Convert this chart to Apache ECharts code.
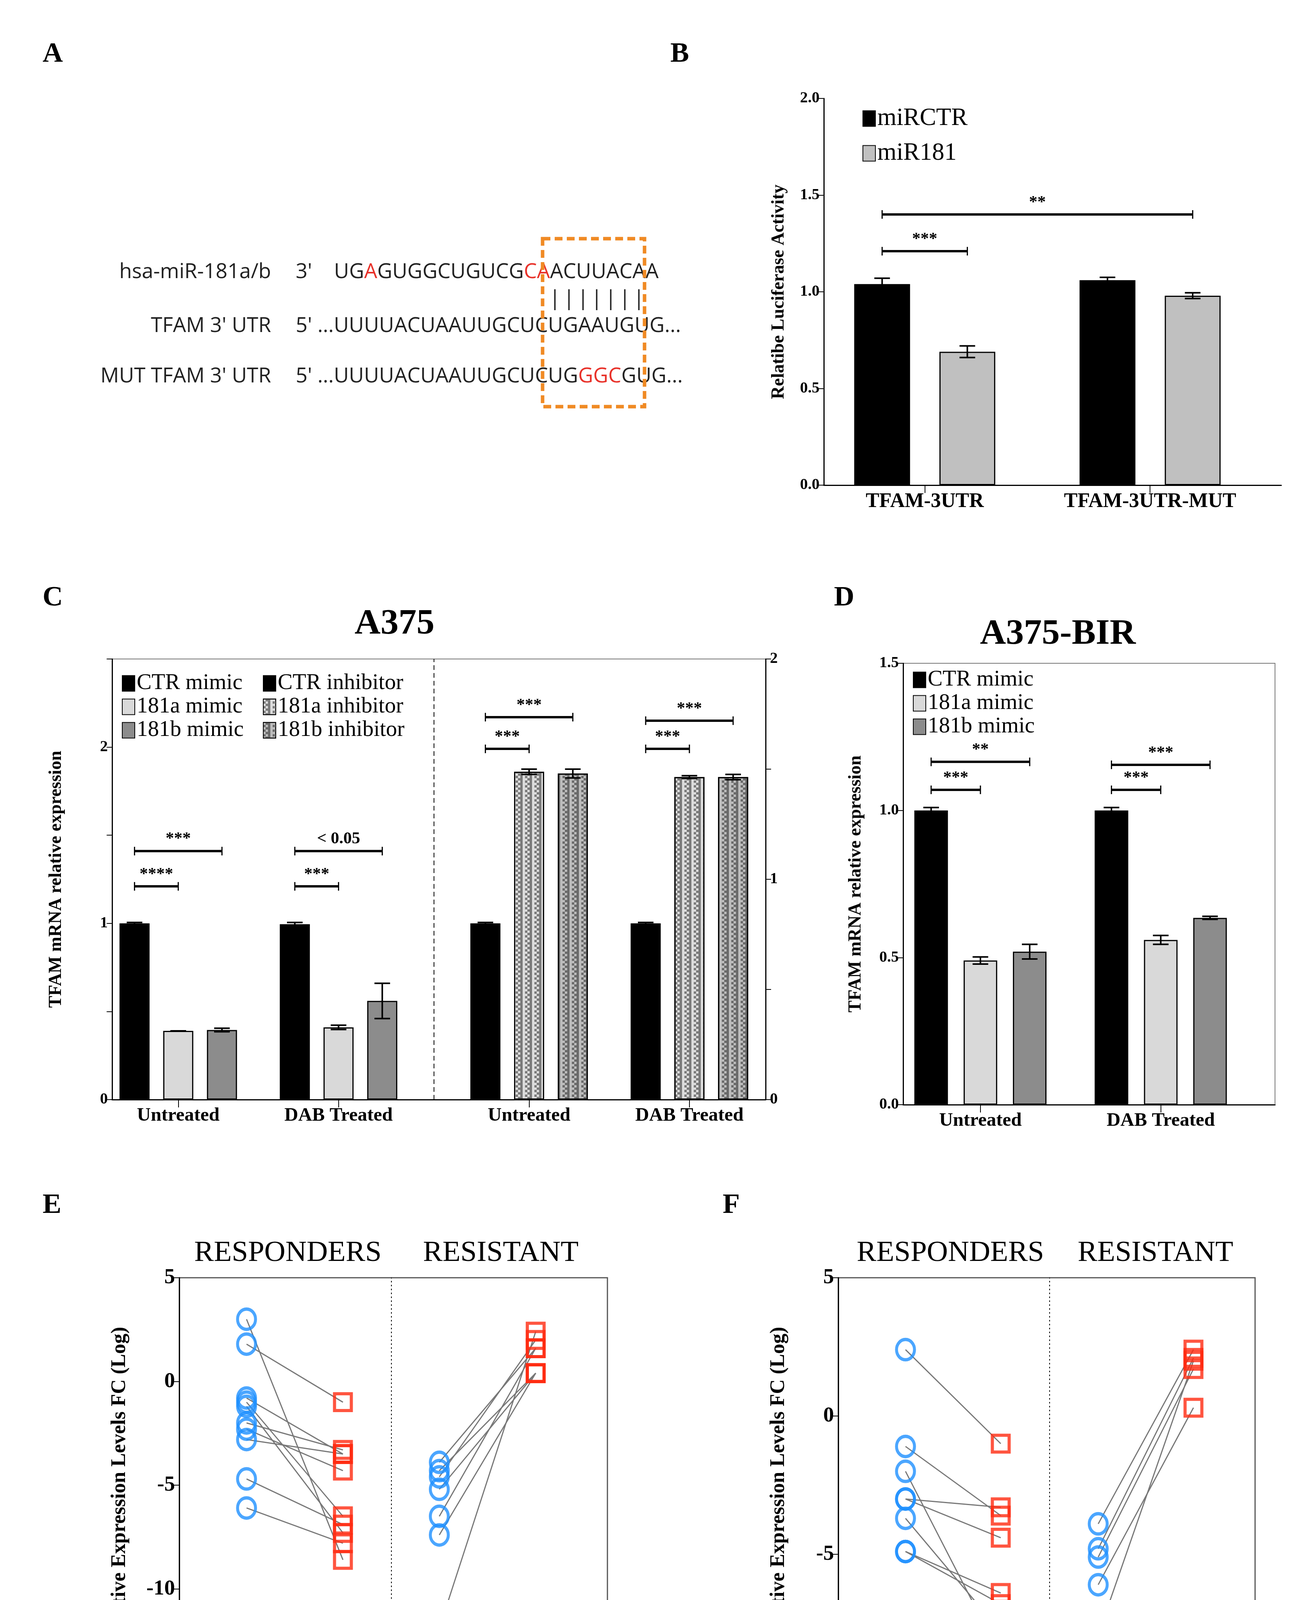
<!DOCTYPE html>
<html><head><meta charset="utf-8">
<script src="https://cdn.jsdelivr.net/npm/echarts@6/dist/echarts.min.js"></script>
<style>html,body{margin:0;padding:0;background:#fff}#c{width:3328px;height:4528px}</style>
</head><body><div id="c"></div>
<script>
// ---------- data ----------
const B_groups = ['TFAM-3UTR', 'TFAM-3UTR-MUT'];
const B_miRCTR = [1.04, 1.06];
const B_miRCTR_err = [0.03, 0.015];
const B_miR181 = [0.69, 0.98];
const B_miR181_err = [0.03, 0.015];
const B_sig = [[0,0,0,1,1.21,'***'],[0,0,1,1,1.40,'**']]; // g1,s1,g2,s2,y,text

const C_groups = ['Untreated', 'DAB Treated', 'Untreated', 'DAB Treated'];
const C_ctrMimic = [1.0, 0.995];
const C_ctrMimic_err = [0.005, 0.01];
const C_181aMimic = [0.39, 0.41];
const C_181aMimic_err = [0.0, 0.012];
const C_181bMimic = [0.395, 0.56];
const C_181bMimic_err = [0.01, 0.1];
const C_ctrInh = [1.0, 1.0];
const C_ctrInh_err = [0.005, 0.005];
const C_181aInh = [1.86, 1.83];
const C_181aInh_err = [0.015, 0.008];
const C_181bInh = [1.85, 1.83];
const C_181bInh_err = [0.025, 0.015];
const C_sig = [[0,0,0,1,1.21,'****'],[0,0,0,2,1.41,'***'],[1,0,1,1,1.21,'***'],[1,0,1,2,1.41,'< 0.05'],
               [2,0,2,1,1.99,'***'],[2,0,2,2,2.17,'***'],[3,0,3,1,1.99,'***'],[3,0,3,2,2.15,'***']];

const D_groups = ['Untreated', 'DAB Treated'];
const D_ctrMimic = [1.0, 1.0];
const D_ctrMimic_err = [0.01, 0.01];
const D_181aMimic = [0.49, 0.56];
const D_181aMimic_err = [0.012, 0.015];
const D_181bMimic = [0.52, 0.635];
const D_181bMimic_err = [0.025, 0.005];
const D_sig = [[0,0,0,1,1.07,'***'],[0,0,0,2,1.165,'**'],[1,0,1,1,1.07,'***'],[1,0,1,2,1.155,'***']];

const E_cats = ['181a', 'TFAM', '181a', 'TFAM'];
const E_resp_181a = [3.0, 1.8, -0.8, -1.0, -1.2, -2.0, -2.3, -2.8, -4.7, -6.1];
const E_resp_TFAM = [-8.6, -1.0, -3.5, -6.5, -7.3, -3.3, -4.3, -3.5, -6.9, -7.8];
const E_res_181a = [-3.9, -4.3, -4.6, -5.2, -6.5, -7.4, -11.9];
const E_res_TFAM = [1.6, 0.4, 2.0, 0.4, 1.6, 0.4, 2.4];

const F_cats = ['181b', 'TFAM', '181b', 'TFAM'];
const F_resp_181b = [2.4, -1.1, -2.0, -3.0, -3.0, -3.7, -4.9, -4.9];
const F_resp_TFAM = [-1.0, -3.6, -8.7, -4.4, -3.3, -7.8, -6.4, -6.8];
const F_res_181b = [-3.9, -4.8, -5.1, -6.1, -7.9];
const F_res_TFAM = [2.4, 2.1, 1.7, 0.3, 2.0];

// ---------- layout ----------
const S = 3328 / 1160;
const p = v => Math.round(v * S);
const SERIF = 'Liberation Serif';
const SANS = 'Open Sans';

const Bpos = {gc: [90, 291], off: 76, bw: 50};
const Cpos = {gc: [59, 202, 372, 515], off: 39, bw: 27};
const Dpos = {gc: [69, 230], off: 44, bw: 30};
const Epos = [60, 146, 232, 318];
const Fpos = [60, 145, 232, 317];

const bx = (pos, g, s, n) => pos.gc[g] + (s - (n - 1) / 2) * pos.off;

const grids = [
  {left: p(735), top: p(88), width: p(408), height: p(345)},
  {left: p(100), top: p(588), width: p(583), height: p(393), show: true, borderColor: '#777', borderWidth: 2},
  {left: p(806), top: p(592), width: p(332), height: p(394), show: true, borderColor: '#777', borderWidth: 2},
  {left: p(160), top: p(1140), width: p(382), height: p(370), show: true, borderColor: '#555', borderWidth: 3},
  {left: p(748), top: p(1140), width: p(372), height: p(370), show: true, borderColor: '#555', borderWidth: 3}
];

const axLine = () => ({show: true, onZero: false, lineStyle: {color: '#000', width: 3}});
function xAxisFor(gi, max, centers, labels, fs) {
  const map = {}; centers.forEach((c, i) => map[c] = labels[i]);
  return {gridIndex: gi, type: 'value', min: 0, max: max, splitLine: {show: false},
    axisLine: axLine(),
    axisTick: {customValues: centers, length: p(7), lineStyle: {color: '#000', width: 2}},
    axisLabel: {customValues: centers, formatter: v => map[v] || '', fontFamily: SERIF, fontWeight: 'bold',
      fontSize: fs, color: '#000', margin: p(6)}};
}
function yAxisFor(gi, min, max, interval, fmt, fs, name, nameGap, extra) {
  return Object.assign({gridIndex: gi, type: 'value', min: min, max: max, interval: interval,
    splitLine: {show: false}, axisLine: axLine(),
    axisTick: {show: true, length: p(5), lineStyle: {color: '#000', width: 2}},
    axisLabel: {formatter: fmt, fontFamily: SERIF, fontWeight: 'bold', fontSize: fs, color: '#000', margin: p(4)},
    name: name, nameLocation: 'middle', nameGap: nameGap,
    nameTextStyle: {fontFamily: SERIF, fontWeight: 'bold', fontSize: p(16), color: '#000'}}, extra || {});
}

const xAxes = [
  xAxisFor(0, 408, Bpos.gc, B_groups, p(18)),
  xAxisFor(1, 583, Cpos.gc, C_groups, p(17)),
  xAxisFor(2, 332, Dpos.gc, D_groups, p(17)),
  xAxisFor(3, 382, Epos, E_cats, p(25)),
  xAxisFor(4, 372, Fpos, F_cats, p(25))
];
const yAxes = [
  yAxisFor(0, 0, 2, 0.5, v => v.toFixed(1), p(14), 'Relatibe Luciferase Activity', p(32)),
  yAxisFor(1, 0, 2.5, 0.5, v => Number.isInteger(v) ? v : '', p(14), 'TFAM mRNA relative expression', p(42)),
  yAxisFor(1, 0, 2, 0.5, v => Number.isInteger(v) ? v : '', p(14), '', 0, {position: 'right'}),
  yAxisFor(2, 0, 1.5, 0.5, v => v.toFixed(1), p(14), 'TFAM mRNA relative expression', p(34)),
  yAxisFor(3, -15, 5, 5, v => v, p(19), 'Relative Expression Levels FC (Log)', p(44)),
  yAxisFor(4, -10, 5, 5, v => v, p(19), 'Relative Expression Levels FC (Log)', p(44))
];
yAxes[4].nameTextStyle.fontSize = p(18);
yAxes[5].nameTextStyle.fontSize = p(18);

const series = [];
function barSeries(name, xi, yi, pos, vals, groupIdx, s, n, style) {
  series.push({name: name, type: 'bar', xAxisIndex: xi, yAxisIndex: yi, barWidth: p(pos.bw), barGap: '-100%',
    itemStyle: Object.assign({borderColor: '#000', borderWidth: 3}, style),
    data: vals.map((v, i) => [bx(pos, groupIdx[i], s, n), v]), z: 2});
}
function errSeries(xi, yi, pos, vals, errs, groupIdx, s, n) {
  series.push({type: 'custom', xAxisIndex: xi, yAxisIndex: yi, z: 5, silent: true,
    data: vals.map((v, i) => [bx(pos, groupIdx[i], s, n), v, errs[i]]),
    renderItem: (params, api) => {
      const x = api.value(0), y = api.value(1), e = api.value(2);
      const t = api.coord([x, y + e]), b = api.coord([x, y - e]);
      const c = p(7), st = {stroke: '#000', lineWidth: 4};
      return {type: 'group', children: [
        {type: 'line', shape: {x1: t[0], y1: t[1], x2: b[0], y2: b[1]}, style: st},
        {type: 'line', shape: {x1: t[0] - c, y1: t[1], x2: t[0] + c, y2: t[1]}, style: st},
        {type: 'line', shape: {x1: b[0] - c, y1: b[1], x2: b[0] + c, y2: b[1]}, style: st}]};
    }});
}
function sigSeries(xi, yi, pos, sig, n) {
  series.push({type: 'custom', xAxisIndex: xi, yAxisIndex: yi, z: 5, silent: true,
    data: sig.map(s => [bx(pos, s[0], s[1], n), bx(pos, s[2], s[3], n), s[4]]),
    renderItem: (params, api) => {
      const a = api.coord([api.value(0), api.value(2)]), b = api.coord([api.value(1), api.value(2)]);
      const h = p(4), st = {stroke: '#000', lineWidth: 6};
      return {type: 'group', children: [
        {type: 'line', shape: {x1: a[0], y1: a[1], x2: b[0], y2: b[1]}, style: st},
        {type: 'line', shape: {x1: a[0], y1: a[1] - h, x2: a[0], y2: a[1] + h}, style: {stroke: '#000', lineWidth: 3}},
        {type: 'line', shape: {x1: b[0], y1: b[1] - h, x2: b[0], y2: b[1] + h}, style: {stroke: '#000', lineWidth: 3}},
        {type: 'text', style: {x: (a[0] + b[0]) / 2, y: a[1] - p(3), text: sig[params.dataIndex][5],
          textAlign: 'center', textVerticalAlign: 'bottom', fontFamily: SERIF, fontWeight: 'bold', fontSize: p(15), fill: '#000'}}]};
    }});
}

// B
barSeries('miRCTR', 0, 0, Bpos, B_miRCTR, [0, 1], 0, 2, {color: '#000'});
barSeries('miR181', 0, 0, Bpos, B_miR181, [0, 1], 1, 2, {color: '#c0c0c0'});
errSeries(0, 0, Bpos, B_miRCTR, B_miRCTR_err, [0, 1], 0, 2);
errSeries(0, 0, Bpos, B_miR181, B_miR181_err, [0, 1], 1, 2);
sigSeries(0, 0, Bpos, B_sig, 2);

// C
const checker = c => ({symbol: 'rect', symbolSize: 1, color: c, dashArrayX: [[6, 6], [0, 6, 6]], dashArrayY: [6, 0], rotation: 0});
barSeries('CTR mimic', 1, 1, Cpos, C_ctrMimic, [0, 1], 0, 3, {color: '#000'});
barSeries('181a mimic', 1, 1, Cpos, C_181aMimic, [0, 1], 1, 3, {color: '#d9d9d9'});
barSeries('181b mimic', 1, 1, Cpos, C_181bMimic, [0, 1], 2, 3, {color: '#8c8c8c'});
barSeries('CTR inhibitor', 1, 1, Cpos, C_ctrInh, [2, 3], 0, 3, {color: '#000'});
barSeries('181a inhibitor', 1, 1, Cpos, C_181aInh, [2, 3], 1, 3, {color: '#dcdcdc', decal: checker('#7a7a7a')});
barSeries('181b inhibitor', 1, 1, Cpos, C_181bInh, [2, 3], 2, 3, {color: '#bdbdbd', decal: checker('#6a6a6a')});
series[series.length - 1].markLine = {silent: true, symbol: 'none', label: {show: false},
  lineStyle: {color: '#000', type: [12, 8], width: 2}, data: [{xAxis: 287}]};
errSeries(1, 1, Cpos, C_ctrMimic, C_ctrMimic_err, [0, 1], 0, 3);
errSeries(1, 1, Cpos, C_181aMimic, C_181aMimic_err, [0, 1], 1, 3);
errSeries(1, 1, Cpos, C_181bMimic, C_181bMimic_err, [0, 1], 2, 3);
errSeries(1, 1, Cpos, C_ctrInh, C_ctrInh_err, [2, 3], 0, 3);
errSeries(1, 1, Cpos, C_181aInh, C_181aInh_err, [2, 3], 1, 3);
errSeries(1, 1, Cpos, C_181bInh, C_181bInh_err, [2, 3], 2, 3);
sigSeries(1, 1, Cpos, C_sig, 3);

// D
barSeries('CTR mimic ', 2, 3, Dpos, D_ctrMimic, [0, 1], 0, 3, {color: '#000'});
barSeries('181a mimic ', 2, 3, Dpos, D_181aMimic, [0, 1], 1, 3, {color: '#d9d9d9'});
barSeries('181b mimic ', 2, 3, Dpos, D_181bMimic, [0, 1], 2, 3, {color: '#8c8c8c'});
errSeries(2, 3, Dpos, D_ctrMimic, D_ctrMimic_err, [0, 1], 0, 3);
errSeries(2, 3, Dpos, D_181aMimic, D_181aMimic_err, [0, 1], 1, 3);
errSeries(2, 3, Dpos, D_181bMimic, D_181bMimic_err, [0, 1], 2, 3);
sigSeries(2, 3, Dpos, D_sig, 3);

// E/F
function pairs(xi, yi, xs, a, b, a2, b2) {
  const segs = [];
  a.forEach((v, i) => segs.push([xs[0], v, xs[1], b[i]]));
  a2.forEach((v, i) => segs.push([xs[2], v, xs[3], b2[i]]));
  series.push({type: 'custom', xAxisIndex: xi, yAxisIndex: yi, z: 1, silent: true, data: segs,
    renderItem: (params, api) => {
      const s = api.coord([api.value(0), api.value(1)]), e = api.coord([api.value(2), api.value(3)]);
      return {type: 'line', shape: {x1: s[0], y1: s[1], x2: e[0], y2: e[1]}, style: {stroke: '#777', lineWidth: 3}};
    }});
  series.push({type: 'scatter', xAxisIndex: xi, yAxisIndex: yi, z: 3, symbol: 'circle', symbolSize: [p(16), p(18)],
    itemStyle: {color: 'rgba(0,0,0,0)', borderColor: '#1e90ff', borderWidth: 8},
    data: a.map(v => [xs[0], v]).concat(a2.map(v => [xs[2], v])),
    markLine: {silent: true, symbol: 'none', label: {show: false}, lineStyle: {color: '#000', type: [4, 6], width: 2},
      data: [{xAxis: (xs[1] + xs[2]) / 2 }]}});
  series.push({type: 'scatter', xAxisIndex: xi, yAxisIndex: yi, z: 3, symbol: 'rect', symbolSize: p(15),
    itemStyle: {color: 'rgba(0,0,0,0)', borderColor: '#ff2a10', borderWidth: 8},
    data: b.map(v => [xs[1], v]).concat(b2.map(v => [xs[3], v]))});
}
pairs(3, 4, Epos, E_resp_181a, E_resp_TFAM, E_res_181a, E_res_TFAM);
pairs(4, 5, Fpos, F_resp_181b, F_resp_TFAM, F_res_181b, F_res_TFAM);

const legBase = {orient: 'vertical', icon: 'rect', itemWidth: p(11), itemHeight: p(14), itemGap: p(1),
  textStyle: {fontFamily: SERIF, fontSize: p(20), color: '#000', lineHeight: p(18)}, selectedMode: false,
  itemStyle: {borderWidth: 2, borderColor: '#000'}};
const legends = [
  Object.assign({}, legBase, {left: p(768), top: p(93), itemGap: p(9),
    textStyle: {fontFamily: SERIF, fontSize: p(22), color: '#000', lineHeight: p(20)}, data: ['miRCTR', 'miR181']}),
  Object.assign({}, legBase, {left: p(107), top: p(598), data: ['CTR mimic', '181a mimic', '181b mimic']}),
  Object.assign({}, legBase, {left: p(233), top: p(598), data: ['CTR inhibitor', '181a inhibitor', '181b inhibitor']}),
  Object.assign({}, legBase, {left: p(813), top: p(595), data: ['CTR mimic ', '181a mimic ', '181b mimic ']})
];

// graphics: panel letters, titles, panel A
const letter = (t, x, y) => ({type: 'text', left: p(x), top: p(y), style: {text: t, fontFamily: SERIF, fontWeight: 'bold', fontSize: p(25), fill: '#000'}});
const FS = p(18.5);
const seqFont = {fontFamily: SANS, fontSize: FS, fill: '#222'};
const rich = {r: {fill: '#e8322a', fontFamily: SANS, fontSize: FS}};
const tx = (t, x, y, align, extra) => ({type: 'text', x: p(x), y: p(y),
  style: Object.assign({text: t, textAlign: align || 'left', textVerticalAlign: 'middle', rich: rich}, seqFont, extra || {})});
const hdr = (t, x, y) => ({type: 'text', x: p(x), y: p(y), style: {text: t, textAlign: 'center', textVerticalAlign: 'middle', fontFamily: SERIF, fontSize: p(26), fill: '#000'}});
const graphic = [
  letter('A', 38, 36), letter('B', 598, 36), letter('C', 38, 521), letter('D', 744, 521), letter('E', 38, 1063), letter('F', 645, 1063),
  {type: 'text', x: p(352), y: p(557), style: {text: 'A375', textAlign: 'center', textVerticalAlign: 'middle', fontFamily: SERIF, fontWeight: 'bold', fontSize: p(32), fill: '#000'}},
  {type: 'text', x: p(944), y: p(566), style: {text: 'A375-BIR', textAlign: 'center', textVerticalAlign: 'middle', fontFamily: SERIF, fontWeight: 'bold', fontSize: p(32), fill: '#000'}},
  hdr('RESPONDERS', 257, 1118), hdr('RESISTANT', 447, 1118), hdr('RESPONDERS', 848, 1118), hdr('RESISTANT', 1031, 1118),
  tx('hsa-miR-181a/b', 242, 243, 'right'), tx("3'", 264, 243), tx('UG{r|A}GUGGCUGUCG{r|CA}ACUUACAA', 298, 243),
  tx("TFAM 3' UTR", 242, 291, 'right'), tx("5' ...UUUUACUAAUUGCUCUGAAUGUG...", 264, 291),
  tx("MUT TFAM 3' UTR", 242, 336, 'right'), tx("5' ...UUUUACUAAUUGCUCUG{r|GGC}GUG...", 264, 336),
  tx('|', 490, 267), tx('|', 502.5, 267), tx('|', 515, 267), tx('|', 527.5, 267), tx('|', 540, 267), tx('|', 552.5, 267), tx('|', 565, 267),
  {type: 'rect', shape: {x: p(484), y: p(213), width: p(91), height: p(150)}, style: {fill: 'none', stroke: '#f08a24', lineWidth: p(3), lineDash: [p(7), p(4)]}}
];

const chart = echarts.init(document.getElementById('c'), null, {renderer: 'canvas'});
chart.setOption({backgroundColor: '#fff', animation: false, grid: grids, xAxis: xAxes, yAxis: yAxes,
  legend: legends, series: series, graphic: graphic});
</script></body></html>
